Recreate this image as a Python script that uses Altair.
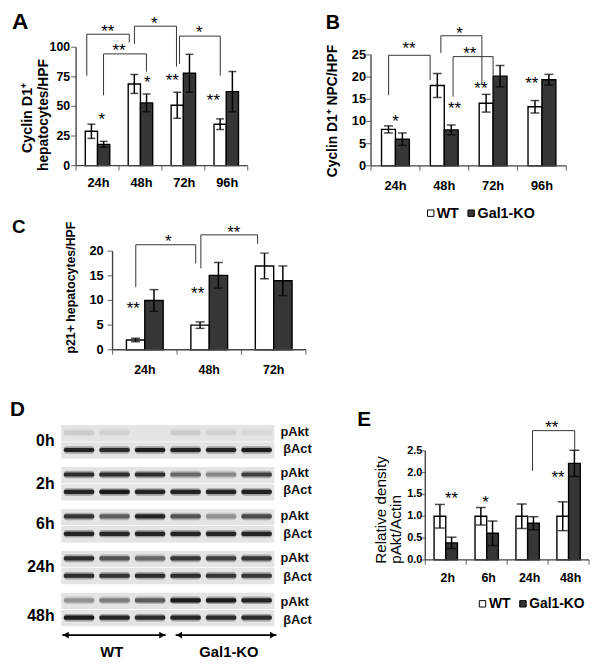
import altair as alt
import pandas as pd

OX, OY = 8, 8
W, H = 592, 655
FONT = "Liberation Sans, Arial, Helvetica, sans-serif"
NARROW = "Liberation Sans Narrow, Arial Narrow, Liberation Sans, Arial, sans-serif"
AXC = "#444444"

series_names = ["WT", "Gal1-KO"]
series_fill = ["#ffffff", "#363636"]

# ---------------- Panel A ----------------
A_groups = ["24h", "48h", "72h", "96h"]
A_wt = [29, 69, 51, 35]
A_wt_err = [6, 8, 11, 4.5]
A_ko = [18, 53, 78, 62.5]
A_ko_err = [2.5, 7.5, 16, 17]
A_ticks = [0, 25, 50, 75, 100]
A_tick_labels = ["0", "25", "50", "75", "100"]
A_br_x1 = [0.25, 0.64, 1.36, 2.41]
A_br_x2 = [1.24, 1.64, 2.34, 3.36]
A_br_top = [111, 94.4, 117.8, 109.4]
A_br_b1 = [76, 59.4, 102.8, 86]
A_br_b2 = [104, 79.4, 83.6, 76]
A_star_text = ["**", "**", "*", "*", "*", "*", "**", "**"]
A_star_x = [0.74, 1.0, 1.82, 2.87, 0.6, 1.66, 2.24, 3.2]
A_star_y = [117, 100.6, 124, 115.8, 42.9, 73.6, 75.4, 58.8]

# ---------------- Panel B ----------------
B_groups = ["24h", "48h", "72h", "96h"]
B_wt = [8.2, 18.1, 14.1, 13.3]
B_wt_err = [0.8, 2.7, 2.0, 1.4]
B_ko = [6.0, 8.1, 20.2, 19.4]
B_ko_err = [1.4, 1.1, 2.4, 1.2]
B_ticks = [0, 5, 10, 15, 20, 25]
B_tick_labels = ["0", "5", "10", "15", "20", "25"]
B_br_x1 = [0.36, 1.43, 1.68]
B_br_x2 = [1.21, 2.27, 2.5]
B_br_top = [24.9, 29.3, 24.6]
B_br_b1 = [15.9, 25.4, 15.6]
B_br_b2 = [19.3, 18.2, 20.4]
B_star_text = ["**", "*", "**", "*", "**", "**", "**"]
B_star_x = [0.78, 1.81, 2.02, 0.5, 1.71, 2.25, 3.29]
B_star_y = [27.3, 30.7, 26.3, 11.0, 13.9, 18.4, 19.5]

# ---------------- Panel C ----------------
C_groups = ["24h", "48h", "72h"]
C_wt = [2.0, 5.0, 17.0]
C_wt_err = [0.35, 0.65, 2.6]
C_ko = [10.0, 15.1, 14.0]
C_ko_err = [2.2, 2.6, 3.0]
C_ticks = [0, 5, 10, 15, 20]
C_tick_labels = ["0", "5", "10", "15", "20"]
C_br_x1 = [0.36, 1.37]
C_br_x2 = [1.29, 2.25]
C_br_top = [21.3, 23.3]
C_br_b1 = [12.7, 16.5]
C_br_b2 = [17.5, 21.5]
C_star_text = ["*", "**", "**", "**"]
C_star_x = [0.865, 1.88, 0.32, 1.32]
C_star_y = [22.8, 24.6, 9.3, 12.2]

# ---------------- Panel E ----------------
E_groups = ["2h", "6h", "24h", "48h"]
E_wt = [1.0, 1.0, 1.0, 1.0]
E_wt_err = [0.27, 0.2, 0.28, 0.33]
E_ko = [0.39, 0.61, 0.84, 2.21]
E_ko_err = [0.13, 0.28, 0.15, 0.3]
E_ticks = [0, 0.5, 1.0, 1.5, 2.0, 2.5]
E_tick_labels = ["0.0", "0.5", "1.0", "1.5", "2.0", "2.5"]
E_br_x1 = [2.62]
E_br_x2 = [3.65]
E_br_top = [2.96]
E_br_b1 = [2.04]
E_br_b2 = [2.51]
E_star_text = ["**", "**", "*", "**"]
E_star_x = [3.09, 0.64, 1.47, 3.24]
E_star_y = [3.12, 1.5, 1.4, 1.98]

# ---------------- Panel D (western blot) ----------------
D_times = ["0h", "2h", "6h", "24h", "48h"]
D_lanes = 6
D_pakt = [
    [0.10, 0.08, 0.00, 0.10, 0.08, 0.05],
    [0.85, 0.85, 0.85, 0.55, 0.40, 0.75],
    [0.80, 0.60, 0.90, 0.65, 0.35, 0.70],
    [0.85, 0.65, 0.55, 0.80, 0.75, 0.80],
    [0.35, 0.45, 0.60, 0.95, 0.95, 0.90],
]
D_bact = [
    [0.90, 0.85, 0.95, 0.90, 0.90, 0.95],
    [0.90, 0.95, 0.90, 0.90, 0.90, 0.92],
    [0.90, 0.88, 0.90, 0.90, 0.88, 0.90],
    [0.85, 0.82, 0.85, 0.85, 0.80, 0.80],
    [0.95, 0.90, 0.85, 0.90, 0.85, 0.85],
]
D_time_label_y = [0.42, 1.44, 2.39, 3.41, 4.59]
D_pakt_label_y = [0.19, 1.18, 2.19, 3.20, 4.26]
D_bact_label_y = [0.61, 1.58, 2.64, 3.65, 4.68]
D_groups = ["WT", "Gal1-KO"]
D_arrow_x1 = [0.03, 3.22]
D_arrow_x2 = [2.94, 6.06]
D_group_label_x = [1.42, 4.72]


def bar_panel(groups, wt, wt_err, ko, ko_err, ticks, tick_labels,
              br_x1, br_x2, br_top, br_b1, br_b2, st_text, st_x, st_y,
              xpx, ypx, ydom, tick_font, tick_size, tick_gap,
              xl_font, xl_size, xl_dy, xl_dx=0, cap=8):
    n = len(groups)
    xs = alt.Scale(domain=[0, n], range=[xpx[0] - OX, xpx[1] - OX], nice=False, zero=False)
    ys = alt.Scale(domain=ydom, range=[ypx[0] - OY, ypx[1] - OY], nice=False, zero=False)
    half = 0.285
    rows = []
    for i, g in enumerate(groups):
        c = i + 0.5
        rows.append(dict(group=g, series=series_names[0], x0=c - half, x1=c, xc=c - half / 2,
                         v=wt[i], lo=wt[i] - wt_err[i], hi=wt[i] + wt_err[i], base=0, fill=series_fill[0]))
        rows.append(dict(group=g, series=series_names[1], x0=c, x1=c + half, xc=c + half / 2,
                         v=ko[i], lo=ko[i] - ko_err[i], hi=ko[i] + ko_err[i], base=0, fill=series_fill[1]))
    bdf = pd.DataFrame(rows)
    X_ = lambda f: alt.X(f, scale=xs, axis=None)
    Y_ = lambda f: alt.Y(f, scale=ys, axis=None)

    bars = alt.Chart(bdf).mark_rect(stroke="black", strokeWidth=1.4).encode(
        x=X_("x0:Q"), x2=alt.X2("x1"), y=Y_("v:Q"), y2=alt.Y2("base"),
        fill=alt.Fill("fill:N", scale=None))
    err = alt.Chart(bdf).mark_rule(color="black", strokeWidth=1.5).encode(
        x=X_("xc:Q"), y=Y_("lo:Q"), y2=alt.Y2("hi"))
    cap_lo = alt.Chart(bdf).mark_tick(orient="horizontal", size=cap, thickness=1.5, color="black").encode(
        x=X_("xc:Q"), y=Y_("lo:Q"))
    cap_hi = alt.Chart(bdf).mark_tick(orient="horizontal", size=cap, thickness=1.5, color="black").encode(
        x=X_("xc:Q"), y=Y_("hi:Q"))

    adf = pd.DataFrame({"x": [0, 0], "x2": [0, n], "y": [ydom[0], ydom[0]], "y2": [ticks[-1], ydom[0]]})
    axes = alt.Chart(adf).mark_rule(color=AXC, strokeWidth=1.4).encode(
        x=X_("x:Q"), x2=alt.X2("x2"), y=Y_("y:Q"), y2=alt.Y2("y2"))
    ytdf = pd.DataFrame({"x": [0] * len(ticks), "y": ticks, "label": tick_labels})
    yt = alt.Chart(ytdf).mark_tick(orient="horizontal", size=5, thickness=1.2, color=AXC, xOffset=-2.5).encode(
        x=X_("x:Q"), y=Y_("y:Q"))
    ytl = alt.Chart(ytdf).mark_text(align="right", baseline="middle", dx=-tick_gap, font=tick_font,
                                    fontSize=tick_size, fontWeight="bold", color="black").encode(
        x=X_("x:Q"), y=Y_("y:Q"), text="label:N")
    xtdf = pd.DataFrame({"x": list(range(n + 1)), "y": [ydom[0]] * (n + 1)})
    xt = alt.Chart(xtdf).mark_tick(orient="vertical", size=5, thickness=1.2, color=AXC, yOffset=2.5).encode(
        x=X_("x:Q"), y=Y_("y:Q"))
    xldf = pd.DataFrame({"x": [i + 0.5 for i in range(n)], "y": [ydom[0]] * n, "label": groups})
    xl = alt.Chart(xldf).mark_text(align="center", baseline="middle", dy=xl_dy, dx=xl_dx, font=xl_font,
                                   fontSize=xl_size, fontWeight="bold", color="black").encode(
        x=X_("x:Q"), y=Y_("y:Q"), text="label:N")

    segs = []
    for a, b, t, l1, l2 in zip(br_x1, br_x2, br_top, br_b1, br_b2):
        segs.append(dict(x=a, x2=a, y=l1, y2=t))
        segs.append(dict(x=a, x2=b, y=t, y2=t))
        segs.append(dict(x=b, x2=b, y=l2, y2=t))
    sdf = pd.DataFrame(segs)
    brk = alt.Chart(sdf).mark_rule(color="#333333", strokeWidth=1).encode(
        x=X_("x:Q"), x2=alt.X2("x2"), y=Y_("y:Q"), y2=alt.Y2("y2"))
    stdf = pd.DataFrame({"x": st_x, "y": st_y, "t": st_text})
    stars = alt.Chart(stdf).mark_text(align="center", baseline="alphabetic", dy=9.8, font=FONT,
                                      fontSize=17, color="black").encode(
        x=X_("x:Q"), y=Y_("y:Q"), text="t:N")
    return alt.layer(bars, err, cap_lo, cap_hi, axes, yt, ytl, xt, xl, brk, stars)


pA = bar_panel(A_groups, A_wt, A_wt_err, A_ko, A_ko_err, A_ticks, A_tick_labels,
               A_br_x1, A_br_x2, A_br_top, A_br_b1, A_br_b2, A_star_text, A_star_x, A_star_y,
               xpx=[77, 251], ypx=[163.3, 43.3], ydom=[0, 100],
               tick_font=FONT, tick_size=12.5, tick_gap=6, xl_font=FONT, xl_size=13, xl_dy=18, xl_dx=1, cap=8)
pB = bar_panel(B_groups, B_wt, B_wt_err, B_ko, B_ko_err, B_ticks, B_tick_labels,
               B_br_x1, B_br_x2, B_br_top, B_br_b1, B_br_b2, B_star_text, B_star_x, B_star_y,
               xpx=[376, 574], ypx=[163.5, 51], ydom=[0, 25],
               tick_font=NARROW, tick_size=13, tick_gap=5, xl_font=NARROW, xl_size=13, xl_dy=20, cap=9)
pC = bar_panel(C_groups, C_wt, C_wt_err, C_ko, C_ko_err, C_ticks, C_tick_labels,
               C_br_x1, C_br_x2, C_br_top, C_br_b1, C_br_b2, C_star_text, C_star_x, C_star_y,
               xpx=[114, 310], ypx=[350, 250], ydom=[0, 20],
               tick_font=FONT, tick_size=13, tick_gap=9, xl_font=FONT, xl_size=12.5, xl_dy=21, cap=9)
pE = bar_panel(E_groups, E_wt, E_wt_err, E_ko, E_ko_err, E_ticks, E_tick_labels,
               E_br_x1, E_br_x2, E_br_top, E_br_b1, E_br_b2, E_star_text, E_star_x, E_star_y,
               xpx=[431, 597], ypx=[563, 452.3], ydom=[0, 2.5],
               tick_font=NARROW, tick_size=11, tick_gap=3, xl_font=FONT, xl_size=12.5, xl_dy=18, xl_dx=2, cap=10)

# ---------------- Blot panel ----------------
dxs = alt.Scale(domain=[0, D_lanes], range=[62 - OX, 278 - OX], nice=False, zero=False)
dys = alt.Scale(domain=[0, len(D_times)], range=[425 - OY, 637.5 - OY], nice=False, zero=False)
DX = lambda f: alt.X(f, scale=dxs, axis=None)
DY = lambda f: alt.Y(f, scale=dys, axis=None)

strip_rows = []
band_rows = []
for i, t in enumerate(D_times):
    strip_rows.append(dict(x=0, x2=D_lanes, y=i + 0.03, y2=i + 0.42))
    strip_rows.append(dict(x=0, x2=D_lanes, y=i + 0.44, y2=i + 0.83))
    for j in range(D_lanes):
        for prot, vals, c in (("pAkt", D_pakt, i + 0.21), ("βAct", D_bact, i + 0.625)):
            band_rows.append(dict(time=t, protein=prot, lane=j, intensity=vals[i][j],
                                  x=j + 0.07, x2=j + 0.93, y=c - 0.05, y2=c + 0.05,
                                  hy=c - 0.09, hy2=c + 0.09))
strip_df = pd.DataFrame(strip_rows)
band_df = pd.DataFrame(band_rows)
bcol = alt.Color("intensity:Q", scale=alt.Scale(domain=[0, 1], range=["#e4e4e4", "#121212"]), legend=None)

strips = alt.Chart(strip_df).mark_rect(color="#e4e4e4").encode(
    x=DX("x:Q"), x2=alt.X2("x2"), y=DY("y:Q"), y2=alt.Y2("y2"))
halo = alt.Chart(band_df).mark_rect(opacity=0.35, cornerRadius=3).encode(
    x=DX("x:Q"), x2=alt.X2("x2"), y=DY("hy:Q"), y2=alt.Y2("hy2"), color=bcol)
bands = alt.Chart(band_df).mark_rect(cornerRadius=2).encode(
    x=DX("x:Q"), x2=alt.X2("x2"), y=DY("y:Q"), y2=alt.Y2("y2"), color=bcol)

tl_df = pd.DataFrame({"x": [-0.19] * len(D_times), "y": D_time_label_y, "t": D_times})
time_labels = alt.Chart(tl_df).mark_text(align="right", baseline="middle", font=FONT, fontSize=16,
                                         fontWeight="bold", color="black").encode(
    x=DX("x:Q"), y=DY("y:Q"), text="t:N")
pl_df = pd.DataFrame({"x": [6.17] * len(D_times) + [6.25] * len(D_times),
                      "y": D_pakt_label_y + D_bact_label_y,
                      "t": ["pAkt"] * len(D_times) + ["βAct"] * len(D_times)})
prot_labels = alt.Chart(pl_df).mark_text(align="left", baseline="middle", font=FONT, fontSize=13,
                                         fontWeight="bold", color="#111111").encode(
    x=DX("x:Q"), y=DY("y:Q"), text="t:N")
ar_df = pd.DataFrame({"x": D_arrow_x1, "x2": D_arrow_x2, "y": [5.04, 5.04]})
arrows = alt.Chart(ar_df).mark_rule(color="black", strokeWidth=1.6).encode(
    x=DX("x:Q"), x2=alt.X2("x2"), y=DY("y:Q"))
ahl = alt.Chart(pd.DataFrame({"x": [a + 0.1 for a in D_arrow_x1], "y": [5.04, 5.04]})).mark_point(
    shape="triangle-left", filled=True, size=45, color="black", opacity=1).encode(x=DX("x:Q"), y=DY("y:Q"))
ahr = alt.Chart(pd.DataFrame({"x": [a - 0.1 for a in D_arrow_x2], "y": [5.04, 5.04]})).mark_point(
    shape="triangle-right", filled=True, size=45, color="black", opacity=1).encode(x=DX("x:Q"), y=DY("y:Q"))
gl_df = pd.DataFrame({"x": D_group_label_x, "y": [5.45, 5.45], "t": D_groups})
group_labels = alt.Chart(gl_df).mark_text(align="center", baseline="middle", font=FONT, fontSize=15,
                                          fontWeight="bold", color="black").encode(
    x=DX("x:Q"), y=DY("y:Q"), text="t:N")
pD = alt.layer(strips, halo, bands, time_labels, prot_labels, arrows, ahl, ahr, group_labels)

# ---------------- Annotations (letters, titles, legends) ----------------
PX = lambda f: alt.X(f, scale=None, axis=None)
PY = lambda f: alt.Y(f, scale=None, axis=None)

let_df = pd.DataFrame({"x": [12 - OX, 330 - OX, 12 - OX, 10 - OX, 362 - OX],
                       "y": [25 - OY, 25 - OY, 232 - OY, 417 - OY, 427 - OY],
                       "t": ["A", "B", "C", "D", "E"], "fs": [23, 20, 19, 21, 21]})
letters = alt.Chart(let_df).mark_text(align="left", baseline="alphabetic", font=FONT, fontWeight="bold",
                                      color="black").encode(
    x=PX("x:Q"), y=PY("y:Q"), text="t:N", size=alt.Size("fs:Q", scale=None, legend=None))

yt_bold = pd.DataFrame({"x": [28 - OX, 45 - OX, 72 - OX],
                        "y": [115 - OY, 112 - OY, 287 - OY],
                        "t": ["Cyclin D1⁺", "hepatocytes/HPF", "p21+ hepatocytes/HPF"],
                        "fs": [14.5, 14, 12.5]})
ytitles = alt.Chart(yt_bold).mark_text(angle=270, align="center", baseline="middle", font=FONT,
                                       fontWeight="bold", color="black").encode(
    x=PX("x:Q"), y=PY("y:Q"), text="t:N", size=alt.Size("fs:Q", scale=None, legend=None))
ytB = alt.Chart(pd.DataFrame({"x": [338 - OX], "y": [108 - OY], "t": ["Cyclin D1⁺ NPC/HPF"]})).mark_text(
    angle=270, align="center", baseline="middle", font=NARROW, fontSize=14, fontWeight="bold",
    color="black").encode(x=PX("x:Q"), y=PY("y:Q"), text="t:N")
ytE = alt.Chart(pd.DataFrame({"x": [386 - OX, 401 - OX], "y": [567 - OY, 567 - OY],
                              "t": ["Relative density", "pAkt/Actin"]})).mark_text(
    angle=270, align="left", baseline="middle", font=FONT, fontSize=15.5, color="black").encode(
    x=PX("x:Q"), y=PY("y:Q"), text="t:N")

leg_sq = pd.DataFrame({"x": [436.5 - OX, 477.5 - OX, 489 - OX, 530 - OX],
                       "y": [211.5 - OY, 211.5 - OY, 607.5 - OY, 607.5 - OY],
                       "fill": series_fill + series_fill})
leg_squares = alt.Chart(leg_sq).mark_square(size=42, stroke="black", strokeWidth=1, opacity=1).encode(
    x=PX("x:Q"), y=PY("y:Q"), fill=alt.Fill("fill:N", scale=None))
leg_tx = pd.DataFrame({"x": [442.5 - OX, 484 - OX, 495.5 - OX, 536.5 - OX],
                       "y": [212.5 - OY, 212.5 - OY, 608 - OY, 608 - OY],
                       "t": series_names + series_names,
                       "fs": [14.5, 14.5, 14, 14]})
leg_text = alt.Chart(leg_tx).mark_text(align="left", baseline="middle", font=FONT,
                                       fontWeight="bold", color="black").encode(
    x=PX("x:Q"), y=PY("y:Q"), text="t:N", size=alt.Size("fs:Q", scale=None, legend=None))

chart = alt.layer(
    pA, pB, pC, pD, pE, letters, ytitles, ytB, ytE, leg_squares, leg_text
).resolve_scale(
    x="independent", y="independent", color="independent"
).properties(
    width=W, height=H, autosize="none", padding=0, background="white"
).configure_view(strokeWidth=0)

chart.save("out.html", embed_options={"renderer": "svg", "actions": False})
